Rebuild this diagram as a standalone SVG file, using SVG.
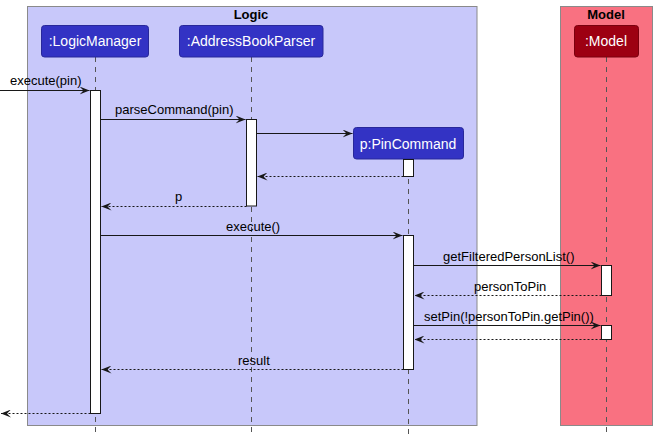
<svg xmlns="http://www.w3.org/2000/svg" width="657" height="437" viewBox="0 0 657 437">
<defs>
<style>
.box{stroke:#8a8a8a;stroke-width:1}
.title{font-family:"Liberation Sans",Arial,sans-serif;font-size:13px;font-weight:bold;fill:#000}
.part text{font-family:"Liberation Sans",Arial,sans-serif;font-size:14px;fill:#fff}
.pl{fill:#3333C4;stroke:#28289a;stroke-width:1}
.pm{fill:#9D0012;stroke:#7a000e;stroke-width:1}
.life{stroke:#555;stroke-width:1;stroke-dasharray:5,5}
.act{fill:#fff;stroke:#181818;stroke-width:1}
.msg{stroke:#181818;stroke-width:1;fill:none}
.ret{stroke:#181818;stroke-width:1;fill:none;stroke-dasharray:2,2}
.lbl{font-family:"Liberation Sans",Arial,sans-serif;font-size:13px;fill:#000}
</style>
<marker id="ah" viewBox="0 0 10 8" refX="10" refY="4" markerWidth="10" markerHeight="8" markerUnits="userSpaceOnUse" orient="auto">
<path d="M0,0 L10,4 L0,8 L4,4 Z" fill="#181818"/>
</marker>
</defs>
<rect width="657" height="437" fill="#fff"/>
<g id="box-logic">
<rect class="box" x="27.5" y="6.5" width="449.5" height="419" fill="#C8C8FA"/>
<text class="title" x="251" y="19" text-anchor="middle">Logic</text>
</g>
<g id="box-model">
<rect class="box" x="560.5" y="6.5" width="92" height="419" fill="#F97181"/>
<text class="title" x="606" y="19" text-anchor="middle">Model</text>
</g>
<g id="lifelines">
<line class="life" x1="95.5" y1="57" x2="95.5" y2="437"/>
<line class="life" x1="251.5" y1="57" x2="251.5" y2="437"/>
<line class="life" x1="408.5" y1="159" x2="408.5" y2="437"/>
<line class="life" x1="606.5" y1="57" x2="606.5" y2="437"/>
</g>
<g id="logicmanager" class="part">
<rect class="pl" x="41.5" y="25.5" width="107" height="31.5" rx="3"/>
<text x="95" y="46" text-anchor="middle">:LogicManager</text>
<rect class="act" x="90.5" y="90.5" width="10" height="323"/>
</g>
<g id="addressbookparser" class="part">
<rect class="pl" x="179.5" y="25.5" width="143.5" height="31.5" rx="3"/>
<text x="251" y="46" text-anchor="middle">:AddressBookParser</text>
<rect class="act" x="246.5" y="119.5" width="10" height="86.5"/>
</g>
<g id="pincommand" class="part">
<rect class="pl" x="353.5" y="127.5" width="110" height="31.5" rx="3"/>
<text x="408" y="148.5" text-anchor="middle">p:PinCommand</text>
<rect class="act" x="403.5" y="159.5" width="10" height="17"/>
<rect class="act" x="403.5" y="235.5" width="10" height="134"/>
</g>
<g id="model" class="part">
<rect class="pm" x="574.5" y="25.5" width="64" height="31.5" rx="3"/>
<text x="606" y="46" text-anchor="middle">:Model</text>
<rect class="act" x="601.5" y="265.5" width="10" height="30"/>
<rect class="act" x="601.5" y="325.5" width="10" height="14"/>
</g>
<g id="connectors">
<line class="msg" x1="0" y1="90.5" x2="89.5" y2="90.5" marker-end="url(#ah)"/>
<text class="lbl" x="10" y="85">execute(pin)</text>
<line class="msg" x1="100.5" y1="119.5" x2="245.5" y2="119.5" marker-end="url(#ah)"/>
<text class="lbl" x="115" y="114">parseCommand(pin)</text>
<line class="msg" x1="256.5" y1="133.5" x2="352.5" y2="133.5" marker-end="url(#ah)"/>
<line class="ret" x1="403.5" y1="176.5" x2="257.5" y2="176.5" marker-end="url(#ah)"/>
<line class="ret" x1="246.5" y1="206.5" x2="101.5" y2="206.5" marker-end="url(#ah)"/>
<text class="lbl" x="175" y="201">p</text>
<line class="msg" x1="100.5" y1="235.5" x2="402.5" y2="235.5" marker-end="url(#ah)"/>
<text class="lbl" x="226" y="230.5">execute()</text>
<line class="msg" x1="413.5" y1="265.5" x2="600.5" y2="265.5" marker-end="url(#ah)"/>
<text class="lbl" x="443" y="260.5">getFilteredPersonList()</text>
<line class="ret" x1="601.5" y1="295.5" x2="414.5" y2="295.5" marker-end="url(#ah)"/>
<text class="lbl" x="474" y="290.5">personToPin</text>
<line class="msg" x1="413.5" y1="325.5" x2="600.5" y2="325.5" marker-end="url(#ah)"/>
<text class="lbl" x="424" y="320.5">setPin(!personToPin.getPin())</text>
<line class="ret" x1="601.5" y1="339.5" x2="414.5" y2="339.5" marker-end="url(#ah)"/>
<line class="ret" x1="403.5" y1="369.5" x2="101.5" y2="369.5" marker-end="url(#ah)"/>
<text class="lbl" x="238" y="364.5">result</text>
<line class="ret" x1="90.5" y1="413.5" x2="1" y2="413.5" marker-end="url(#ah)"/>
</g>
</svg>
